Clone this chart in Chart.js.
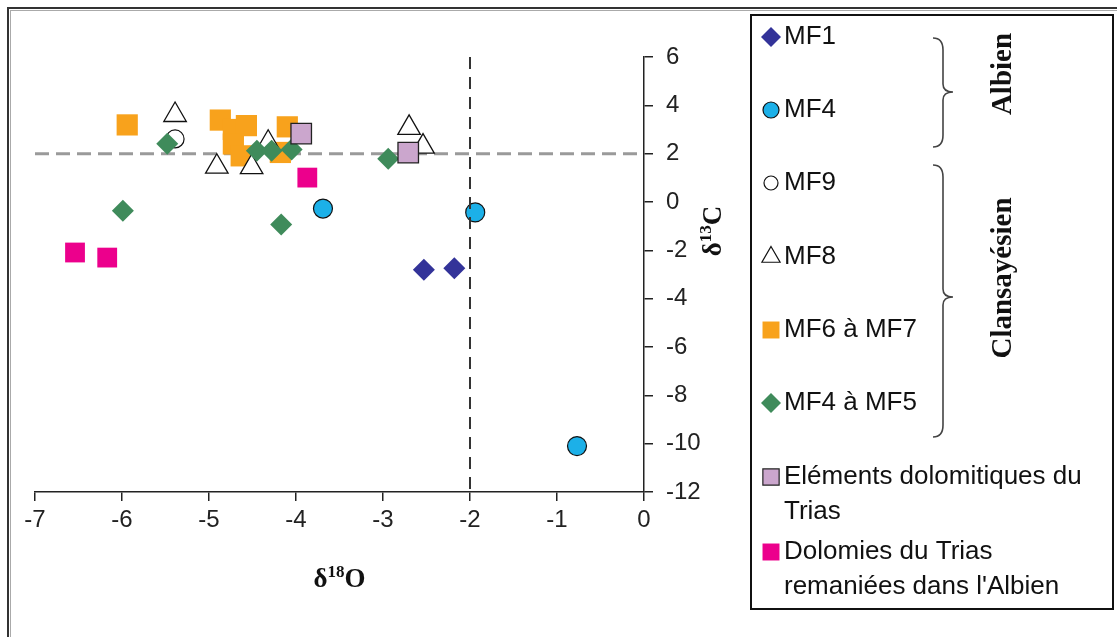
<!DOCTYPE html>
<html>
<head>
<meta charset="utf-8">
<script src="https://cdn.jsdelivr.net/npm/chart.js@4.4.1/dist/chart.umd.min.js"></script>
<style>
  html, body { margin: 0; padding: 0; background: #fff; }
  canvas { display: block; }
</style>
</head>
<body>
<canvas id="isoChart" width="1117" height="637"></canvas>
<script>
// delta18O / delta13C pairs
const mf1 = [[-2.53, -2.80], [-2.18, -2.74]];
const mf4 = [[-3.69, -0.27], [-1.94, -0.43], [-0.77, -10.1]];
const mf9 = [[-5.39, 2.61]];
const mf8 = [[-5.39, 3.60], [-4.91, 1.46], [-4.51, 1.44], [-4.32, 2.45], [-2.70, 3.07], [-2.54, 2.29]];
const mf6to7 = [[-5.94, 3.19], [-4.87, 3.39], [-4.72, 3.00], [-4.57, 3.16], [-4.72, 2.40], [-4.63, 1.91], [-4.10, 3.11], [-4.18, 2.05]];
const mf4to5 = [[-5.48, 2.41], [-4.45, 2.12], [-4.28, 2.12], [-4.05, 2.17], [-2.94, 1.79], [-5.99, -0.36], [-4.17, -0.93]];
const triasDolo = [[-3.94, 2.83], [-2.71, 2.04]];
const triasRemanie = [[-3.87, 1.01], [-6.54, -2.09], [-6.17, -2.30]];

const seriesNames = ['MF1', 'MF4', 'MF9', 'MF8', 'MF6 à MF7', 'MF4 à MF5',
    'Eléments dolomitiques du\nTrias', 'Dolomies du Trias\nremaniées dans l\'Albien'];

const xRange = [-7, 0];
const yRange = [-12, 6];
const refO = -2;   // vertical dashed line
const refC = 2;    // horizontal dashed line

const sansFont = '"Liberation Sans", Arial, sans-serif';
const serifFont = '"Liberation Serif", "Times New Roman", serif';

const pts = arr => arr.map(p => ({ x: p[0], y: p[1] }));

// marker styles: [pointStyle, radius, fill, border, borderWidth, legendRadius]
const styles = [
    ['rectRot', 11, '#333399', '#333399', 0, 10],
    ['circle', 9.5, '#1cb0e8', '#111', 1.2, 8],
    ['circle', 9, '#ffffff', '#111', 1.2, 7],
    ['triangle', 13, '#ffffff', '#111', 1.3, 10.5],
    ['rect', 15, '#f8a21c', '#f8a21c', 0, 12],
    ['rectRot', 11, '#3f8b5b', '#3f8b5b', 0, 10],
    ['rect', 14.5, '#cba6cd', '#222', 1.3, 11.5],
    ['rect', 14, '#ec008c', '#ec008c', 0, 12]
];
const seriesData = [mf1, mf4, mf9, mf8, mf6to7, mf4to5, triasDolo, triasRemanie];
// lower order = drawn on top
const drawOrder = [1, 2, 7, 6, 8, 5, 4, 3];

const datasets = seriesData.map((d, i) => ({
    label: seriesNames[i].replace('\n', ' '),
    data: pts(d),
    pointStyle: styles[i][0],
    pointRadius: styles[i][1],
    backgroundColor: styles[i][2],
    borderColor: styles[i][3],
    borderWidth: styles[i][4],
    order: drawOrder[i]
}));

datasets.push({
    label: 'refC',
    data: [{ x: xRange[0], y: refC }, { x: xRange[1], y: refC }],
    showLine: true, pointRadius: 0, borderColor: '#9a9a9a', borderWidth: 3,
    borderDash: [14, 7], order: 10
});
datasets.push({
    label: 'refO',
    data: [{ x: refO, y: yRange[1] }, { x: refO, y: yRange[0] }],
    showLine: true, pointRadius: 0, borderColor: '#333', borderWidth: 2,
    borderDash: [12, 8], order: 0
});

function marker(ctx, style, x, y, r) {
    ctx.beginPath();
    if (style === 'rectRot') {
        ctx.moveTo(x - r, y); ctx.lineTo(x, y - r); ctx.lineTo(x + r, y); ctx.lineTo(x, y + r);
        ctx.closePath();
    } else if (style === 'circle') {
        ctx.arc(x, y, r, 0, Math.PI * 2);
    } else if (style === 'triangle') {
        ctx.moveTo(x, y - r);
        ctx.lineTo(x + r * Math.sin(Math.PI / 3), y + r / 2);
        ctx.lineTo(x - r * Math.sin(Math.PI / 3), y + r / 2);
        ctx.closePath();
    } else {
        const s = r * Math.SQRT1_2;
        ctx.rect(x - s, y - s, 2 * s, 2 * s);
    }
}

function brace(ctx, x0, xm, xt, y0, ym, y1) {
    ctx.beginPath();
    ctx.moveTo(x0, y0);
    ctx.quadraticCurveTo(xm, y0, xm, y0 + 12);
    ctx.lineTo(xm, ym - 8);
    ctx.quadraticCurveTo(xm, ym, xt, ym);
    ctx.quadraticCurveTo(xm, ym, xm, ym + 8);
    ctx.lineTo(xm, y1 - 12);
    ctx.quadraticCurveTo(xm, y1, x0, y1);
    ctx.stroke();
}

// delta + superscript + letter, centred on (0,0) of current transform
function deltaLabel(ctx, sup, letter) {
    const big = 'bold 27px ' + serifFont, small = 'bold 17px ' + serifFont;
    ctx.font = big; const wd = ctx.measureText('δ').width; const wl = ctx.measureText(letter).width;
    ctx.font = small; const ws = ctx.measureText(sup).width;
    let x = -(wd + ws + wl) / 2;
    ctx.textBaseline = 'alphabetic'; ctx.textAlign = 'left';
    ctx.font = big; ctx.fillText('δ', x, 9); x += wd;
    ctx.font = small; ctx.fillText(sup, x, -1); x += ws;
    ctx.font = big; ctx.fillText(letter, x, 9);
}

const decorPlugin = {
    id: 'decor',
    beforeDraw(chart) {
        const ctx = chart.ctx;
        ctx.save();
        ctx.fillStyle = '#fff';
        ctx.fillRect(0, 0, chart.width, chart.height);
        ctx.restore();
    },
    afterDraw(chart) {
        const ctx = chart.ctx;
        const xs = chart.scales.x, ys = chart.scales.y;
        ctx.save();

        // outer frame (only top/left visible)
        ctx.strokeStyle = '#aaa'; ctx.lineWidth = 1;
        ctx.strokeRect(10.5, 10.5, 1300, 1300);
        ctx.strokeStyle = '#333'; ctx.lineWidth = 2;
        ctx.strokeRect(8, 8, 1300, 1300);

        // axis titles
        ctx.fillStyle = '#111';
        ctx.save();
        ctx.translate((xs.left + xs.right) / 2, 578);
        deltaLabel(ctx, '18', 'O');
        ctx.restore();
        ctx.save();
        ctx.translate(712, ys.getPixelForValue(-1.2));
        ctx.rotate(-Math.PI / 2);
        deltaLabel(ctx, '13', 'C');
        ctx.restore();

        // legend box
        ctx.strokeStyle = '#111'; ctx.lineWidth = 2;
        ctx.strokeRect(751, 15, 362, 594);

        const rowY = [37, 110, 183, 257, 330, 403, 477, 552];
        ctx.font = '26px ' + sansFont;
        ctx.textBaseline = 'middle'; ctx.textAlign = 'left';
        seriesNames.forEach((name, i) => {
            const st = styles[i];
            marker(ctx, st[0], 771, rowY[i], st[5]);
            ctx.fillStyle = st[2]; ctx.fill();
            if (st[4] > 0) { ctx.strokeStyle = st[3]; ctx.lineWidth = 1.2; ctx.stroke(); }
            ctx.fillStyle = '#111';
            name.split('\n').forEach((line, k) => ctx.fillText(line, 784, rowY[i] + k * 35));
        });

        // braces and period labels
        ctx.strokeStyle = '#444'; ctx.lineWidth = 1.6;
        brace(ctx, 933, 943, 953, 38, 92, 147);
        brace(ctx, 933, 943, 953, 165, 297, 437);

        ctx.fillStyle = '#111';
        ctx.font = 'bold 29px ' + serifFont;
        ctx.textAlign = 'center'; ctx.textBaseline = 'middle';
        [['Albien', 74], ['Clansayésien', 278]].forEach(([t, cy]) => {
            ctx.save();
            ctx.translate(1004, cy);
            ctx.rotate(-Math.PI / 2);
            ctx.fillText(t, 0, 0);
            ctx.restore();
        });
        ctx.restore();
    }
};

const axisStyle = {
    grid: { drawOnChartArea: false, drawTicks: true, tickLength: 9, color: '#222', lineWidth: 1.5 },
    border: { display: true, color: '#222', width: 1.5 }
};

new Chart(document.getElementById('isoChart'), {
    type: 'scatter',
    data: { datasets },
    options: {
        responsive: false,
        animation: false,
        events: [],
        layout: { padding: { left: 35, top: 57, right: 1117 - 644 - 80, bottom: 637 - 492 - 62 } },
        plugins: { legend: { display: false }, tooltip: { enabled: false } },
        scales: {
            x: {
                type: 'linear', position: 'bottom', min: xRange[0], max: xRange[1],
                ticks: { stepSize: 1, color: '#222', padding: 5, font: { family: sansFont, size: 24 }, callback: v => String(v) },
                ...axisStyle,
                afterFit: s => { s.height = 62; }
            },
            y: {
                type: 'linear', position: 'right', min: yRange[0], max: yRange[1],
                ticks: { stepSize: 2, color: '#222', padding: 13, font: { family: sansFont, size: 24 }, callback: v => String(v) },
                ...axisStyle,
                afterFit: s => { s.width = 80; }
            }
        }
    },
    plugins: [decorPlugin]
});
</script>
</body>
</html>
